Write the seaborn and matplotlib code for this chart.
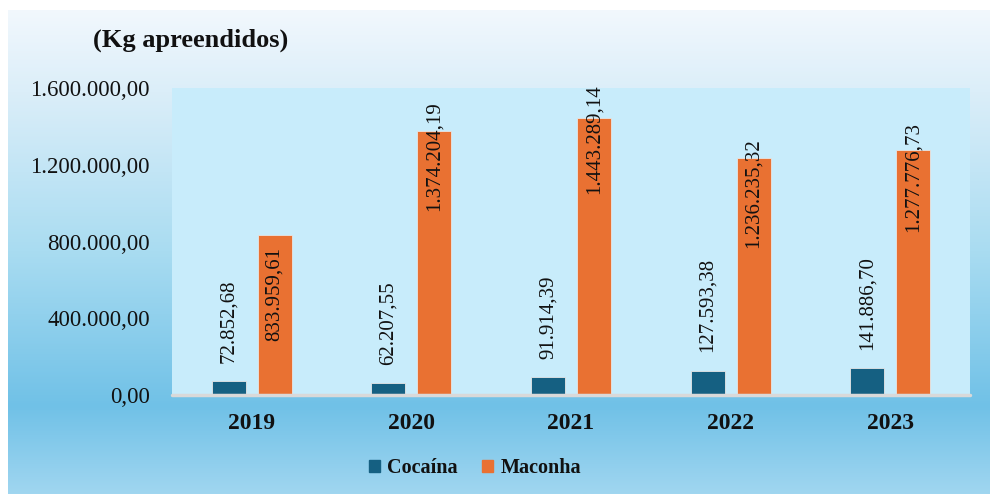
import matplotlib
matplotlib.use('Agg')
import matplotlib.pyplot as plt
import numpy as np
import pandas as pd
import seaborn as sns
from matplotlib.colors import LinearSegmentedColormap

anos = ['2019', '2020', '2021', '2022', '2023']
cocaina = [72852.68, 62207.55, 91914.39, 127593.38, 141886.70]
maconha = [833959.61, 1374204.19, 1443289.14, 1236235.32, 1277776.73]
drogas = ['Cocaína', 'Maconha']
cores = ['#156082', '#e97132']
yticks = [0, 400000, 800000, 1200000, 1600000]

# posicao dos rotulos da maconha (pts, topo do texto em relacao ao topo da barra)
desloc_maconha = [-9, 22, 24, 14, 20]


def fmt_br(v):
    return f'{v:,.2f}'.replace(',', 'X').replace('.', ',').replace('X', '.')


df = pd.DataFrame({
    'ano': anos * 2,
    'kg': cocaina + maconha,
    'droga': [drogas[0]] * len(anos) + [drogas[1]] * len(anos),
})

sns.set_theme(style='white')
plt.rcParams['font.family'] = ['Liberation Serif', 'DejaVu Serif']

fig = plt.figure(figsize=(9.9, 4.94), dpi=100)

# fundo em degradê
bg = fig.add_axes([8 / 990, 0, 982 / 990, 484 / 494], zorder=-10)
cmap = LinearSegmentedColormap.from_list(
    'fundo', [(0, '#f2f8fd'), (0.17, '#dbeef9'), (0.5, '#a9dcf1'),
              (0.82, '#70c1e7'), (1.0, '#a0d6f0')])
bg.imshow(np.linspace(0, 1, 256).reshape(-1, 1), aspect='auto', cmap=cmap,
          extent=[0, 1, 0, 1], origin='upper')
bg.set_axis_off()

ax = fig.add_axes([172 / 990, 1 - 395 / 494, 798 / 990, 307 / 494])
ax.set_facecolor('#c8ecfb')

sns.barplot(data=df, x='ano', y='kg', hue='droga', palette=cores,
            saturation=1, width=0.575, gap=0.26, ax=ax, legend=False,
            linewidth=0.6, edgecolor='#e6e6e6')

ax.set_ylim(0, 1600000)
ax.set_yticks(yticks)
ax.set_yticklabels([fmt_br(v) for v in yticks], fontsize=16.5)
for lab in ax.get_xticklabels():
    lab.set_fontweight('bold')
    lab.set_fontsize(17)
ax.tick_params(axis='both', length=0, colors='#111111')
ax.tick_params(axis='y', pad=16)
ax.tick_params(axis='x', pad=13)
ax.set(xlabel='', ylabel='')
for s in ax.spines.values():
    s.set_visible(False)
ax.axhline(0, color='#d9d9d9', lw=2.5, clip_on=False, zorder=5)

# rotulos de valor
for bar, v in zip(ax.containers[0], cocaina):
    ax.annotate(fmt_br(v), (bar.get_x() + bar.get_width() / 2, bar.get_height()),
                xytext=(0, 13), textcoords='offset points', rotation=90,
                ha='center', va='bottom', fontsize=15, color='#111111')
for bar, v, d in zip(ax.containers[1], maconha, desloc_maconha):
    ax.annotate(fmt_br(v), (bar.get_x() + bar.get_width() / 2, bar.get_height()),
                xytext=(0, d), textcoords='offset points', rotation=90,
                ha='center', va='top', fontsize=15, color='#111111')

fig.text(93 / 990, 1 - 40 / 494, '(Kg apreendidos)', fontsize=19,
         fontweight='bold', ha='left', va='center', color='#111111')

handles = [plt.Rectangle((0, 0), 1, 1, color=c) for c in cores]
leg = fig.legend(handles, drogas, loc='center', ncol=2,
                 bbox_to_anchor=(475 / 990, 1 - 468 / 494), frameon=False,
                 prop={'weight': 'bold', 'size': 14.5},
                 handlelength=0.55, handleheight=0.55, handletextpad=0.35,
                 columnspacing=1.2)
for t in leg.get_texts():
    t.set_color('#111111')

fig.savefig('out.png', dpi=100)
